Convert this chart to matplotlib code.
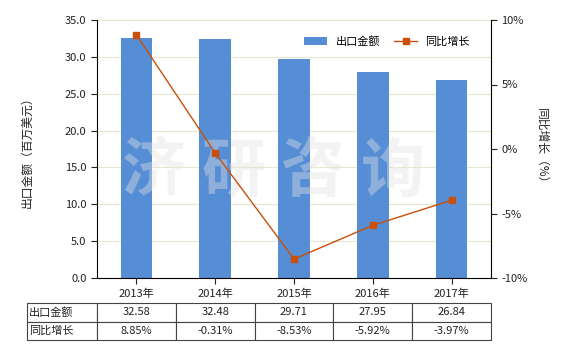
import numpy as np
import matplotlib
matplotlib.use("Agg")
import matplotlib.pyplot as plt

plt.rcParams['font.family'] = ['Noto Sans CJK SC', 'DejaVu Sans']
plt.rcParams['font.size'] = 8

# 数据
years = ['2013年', '2014年', '2015年', '2016年', '2017年']
export_value = [32.58, 32.48, 29.71, 27.95, 26.84]
growth = [8.85, -0.31, -8.53, -5.92, -3.97]
value_labels = ['32.58', '32.48', '29.71', '27.95', '26.84']
growth_labels = ['8.85%', '-0.31%', '-8.53%', '-5.92%', '-3.97%']

bar_color = '#558ed5'
line_color = '#c8500a'
text_color = '#222222'

fig = plt.figure(figsize=(5.8, 3.5), dpi=100)
ax = fig.add_axes([97 / 580, 1 - 278 / 350, 394 / 580, 258 / 350])
x = np.arange(len(years))

ax.bar(x, export_value, width=0.4, color=bar_color, zorder=2, label='出口金额')
ax.set_xlim(-0.5, 4.5)
ax.set_ylim(0, 35)
ax.set_yticks(np.arange(0, 35.1, 5))
ax.set_yticklabels([f'{v:.1f}' for v in np.arange(0, 35.1, 5)])
ax.set_xticks(x)
ax.set_xticklabels(years)
ax.grid(axis='y', color='#e6e6d2', linewidth=0.8, zorder=0)
ax.set_ylabel('出口金额（百万美元）', color=text_color, fontsize=8.5)
ax.yaxis.set_label_coords(-0.16, 0.5)
for s in ['top', 'right']:
    ax.spines[s].set_visible(False)
ax.tick_params(direction='out', length=4, colors=text_color, labelsize=8)

ax2 = ax.twinx()
ax2.plot(x, growth, color=line_color, linewidth=1, marker='s', markersize=4.5,
         zorder=5, label='同比增长')
ax2.set_ylim(-10, 10)
ax2.set_yticks([-10, -5, 0, 5, 10])
ax2.set_yticklabels(['-10%', '-5%', '0%', '5%', '10%'])
ax2.set_ylabel('同比增长（%）', rotation=270, color=text_color, fontsize=8.5)
ax2.yaxis.set_label_coords(1.145, 0.5)
for s in ['top', 'left', 'bottom']:
    ax2.spines[s].set_visible(False)
ax2.tick_params(direction='out', length=4, colors=text_color, labelsize=8)

# 水印（逐字放置，字距较大）
for i, ch in enumerate('济研咨询'):
    ax.text(0.145 + i * 0.202, 0.41, ch, transform=ax.transAxes, fontsize=46,
            fontweight='bold', color='#e2e2e2', alpha=0.4, ha='center',
            va='center', zorder=3)

# 图例
h1, l1 = ax.get_legend_handles_labels()
h2, l2 = ax2.get_legend_handles_labels()
ax2.legend(h1 + h2, l1 + l2, loc='upper right', bbox_to_anchor=(0.958, 0.955),
           borderaxespad=0, ncol=2, frameon=False, fontsize=8,
           handlelength=2.0, columnspacing=1.3)

# 表格
cell_text = [['出口金额'] + value_labels, ['同比增长'] + growth_labels]
left = -70 / 394
tb = ax.table(cellText=cell_text, colWidths=[70] + [79] * 5,
              bbox=[left, -(340 - 278) / 258, 1 - left, (340 - 303) / 258],
              cellLoc='center')
tb.auto_set_font_size(False)
tb.set_fontsize(8)
for (r, c), cell in tb.get_celld().items():
    cell.set_edgecolor('#444444')
    cell.set_linewidth(0.8)
    cell.get_text().set_color(text_color)
    if c == 0:
        cell.get_text().set_ha('left')
        cell.PAD = 0.03

fig.savefig('out.png', dpi=100)
